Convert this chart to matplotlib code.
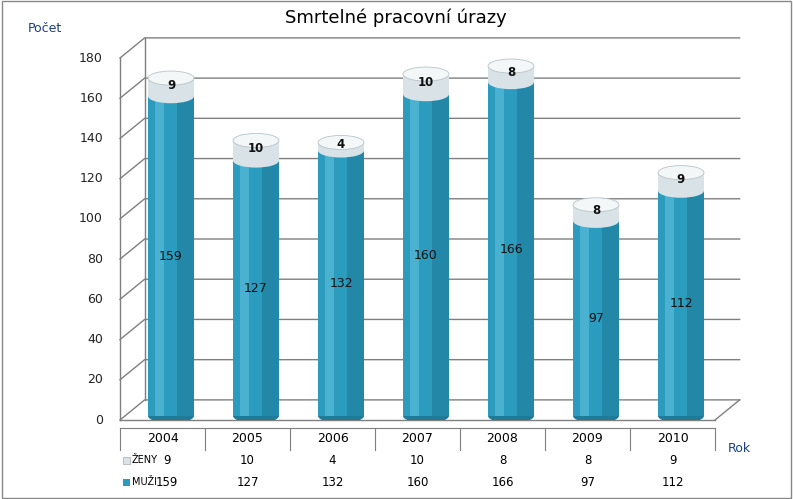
import matplotlib
matplotlib.use("Agg")
import matplotlib.pyplot as plt
from matplotlib.patches import Ellipse, Rectangle
from matplotlib.lines import Line2D

years = ["2004", "2005", "2006", "2007", "2008", "2009", "2010"]
zeny = [9, 10, 4, 10, 8, 8, 9]
muzi = [159, 127, 132, 160, 166, 97, 112]
yticks = [0, 20, 40, 60, 80, 100, 120, 140, 160, 180]

W, H = 793, 499
fig = plt.figure(figsize=(W/100, H/100), dpi=100)
fig.patches.append(Rectangle((0.002, 0.002), 0.996, 0.996, transform=fig.transFigure,
                             fill=False, ec="#888888", lw=1))
L, R, B, T = 120, 715, 420, 58
ax = fig.add_axes([L/W, 1-B/H, (R-L)/W, (B-T)/H])
ax.set_xlim(0, 7); ax.set_ylim(0, 180)
ax.axis("off")
dx, dy = 0.29, 10
gc = "#7f7f7f"
for v in yticks:
    ax.plot([0, dx, 7+dx], [v, v+dy, v+dy], color=gc, lw=1, clip_on=False)
    ax.text(-0.2, v, str(v), ha="right", va="center", fontsize=9, color="#222222")
ax.plot([dx, dx], [dy, 180+dy], color=gc, lw=1, clip_on=False)
ax.plot([0, 0], [0, 180], color=gc, lw=1, clip_on=False)
ax.plot([7, 7+dx], [0, dy], color=gc, lw=1, clip_on=False)
ax.plot([0, 7], [0, 0], color=gc, lw=1, clip_on=False)

w, eh, base = 0.54, 7, 2
cm, cm_side, cm_hi = "#2B9BBE", "#1F7C99", "#5FC0DD"
cz, cz_top = "#D9E2E6", "#F4F7F8"
for i, (m, z) in enumerate(zip(muzi, zeny)):
    cx = i + 0.6
    x0 = cx - w/2
    ax.add_patch(Ellipse((cx, base), w, eh, fc=cm_side, ec="none", zorder=2))
    ax.add_patch(Rectangle((x0, base), w, m, fc=cm, ec="none", zorder=2))
    ax.add_patch(Rectangle((x0 + w*0.62, base), w*0.38, m, fc=cm_side, ec="none", zorder=2, alpha=0.6))
    ax.add_patch(Rectangle((x0 + w*0.15, base), w*0.2, m, fc=cm_hi, ec="none", zorder=2, alpha=0.6))
    ax.add_patch(Ellipse((cx, base+m), w, eh, fc=cz, ec="none", zorder=3))
    ax.add_patch(Rectangle((x0, base+m), w, z, fc=cz, ec="none", zorder=3))
    ax.add_patch(Ellipse((cx, base+m+z), w, eh, fc=cz_top, ec="#B8C4C9", lw=0.6, zorder=4))
    ax.text(cx, base+m/2, str(m), ha="center", va="center", fontsize=9, color="#111111", zorder=5)
    ax.text(cx, base+m+z/2+1, str(z), ha="center", va="center", fontsize=8.5,
            fontweight="bold", color="#111111", zorder=5)

def fx(p): return p/W
def fy(p): return 1-p/H
fig.text(fx(396), fy(18), "Smrtelné pracovní úrazy", ha="center", va="center", fontsize=13)
fig.text(fx(28), fy(28), "Počet", ha="left", va="center", fontsize=9, color="#1F3F7F")
fig.text(fx(728), fy(448), "Rok", ha="left", va="center", fontsize=9, color="#1F3F7F")

colw = (R-L)/7
for k in range(8):
    x = L + k*colw
    fig.add_artist(Line2D([fx(x), fx(x)], [fy(428), fy(450)], color=gc, lw=0.8))
fig.add_artist(Line2D([fx(L), fx(R)], [fy(428), fy(428)], color=gc, lw=0.8))
for i in range(7):
    cx = L + (i+0.5)*colw + (4 if i == 0 else 0)
    fig.text(fx(L + (i+0.5)*colw), fy(439), years[i], ha="center", va="center", fontsize=9)
    fig.text(fx(cx), fy(460), str(zeny[i]), ha="center", va="center", fontsize=8.5)
    fig.text(fx(cx), fy(482), str(muzi[i]), ha="center", va="center", fontsize=8.5)
fig.patches.append(Rectangle((fx(123), fy(464)), 7/W, 7/H, transform=fig.transFigure, fc=cz, ec="#aaaaaa", lw=0.5))
fig.patches.append(Rectangle((fx(123), fy(486)), 7/W, 7/H, transform=fig.transFigure, fc=cm, ec="none"))
fig.text(fx(132), fy(460), "ŽENY", ha="left", va="center", fontsize=7)
fig.text(fx(132), fy(482), "MUŽI", ha="left", va="center", fontsize=7)

fig.savefig("out.png", dpi=100)
